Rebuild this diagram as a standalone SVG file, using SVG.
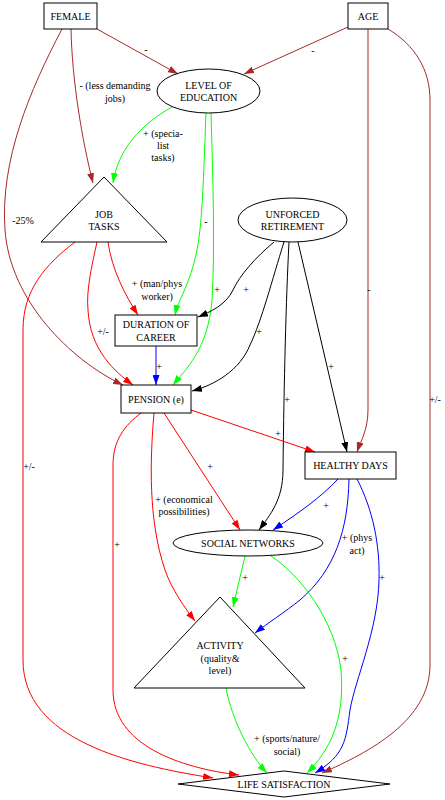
<svg xmlns="http://www.w3.org/2000/svg" width="445" height="800" viewBox="0 0 445 800">
<defs>
<style>
text{font-family:"Liberation Serif","Times New Roman",serif;font-size:10px;text-anchor:middle;dominant-baseline:central;fill:#000}
.n{fill:none;stroke:#000;stroke-width:1}
.e{fill:none;stroke-width:1}
.br{stroke:#a52a2a}.rd{stroke:#ff0000}.gr{stroke:#00ff00}.bl{stroke:#0000ff}.bk{stroke:#000}
</style>
<marker id="abr" markerUnits="userSpaceOnUse" markerWidth="10" markerHeight="7" refX="10" refY="3.5" orient="auto"><path d="M0,0L10,3.5L0,7z" fill="#a52a2a"/></marker>
<marker id="ard" markerUnits="userSpaceOnUse" markerWidth="10" markerHeight="7" refX="10" refY="3.5" orient="auto"><path d="M0,0L10,3.5L0,7z" fill="#ff0000"/></marker>
<marker id="agr" markerUnits="userSpaceOnUse" markerWidth="10" markerHeight="7" refX="10" refY="3.5" orient="auto"><path d="M0,0L10,3.5L0,7z" fill="#00ff00"/></marker>
<marker id="abl" markerUnits="userSpaceOnUse" markerWidth="10" markerHeight="7" refX="10" refY="3.5" orient="auto"><path d="M0,0L10,3.5L0,7z" fill="#0000ff"/></marker>
<marker id="abk" markerUnits="userSpaceOnUse" markerWidth="10" markerHeight="7" refX="10" refY="3.5" orient="auto"><path d="M0,0L10,3.5L0,7z" fill="#000"/></marker>
</defs>
<rect width="445" height="800" fill="#fff"/>
<g id="connectors">
<path class="e br" marker-end="url(#abr)" d="M97,29 L178,74"/>
<path class="e br" marker-end="url(#abr)" d="M348,27 L244,74"/>
<path class="e br" marker-end="url(#abr)" d="M71,29 C72,80 82,140 93,183"/>
<path class="e br" marker-end="url(#abr)" d="M62,29 C30,90 0,160 5,230 C10,300 70,360 123,385"/>
<path class="e gr" marker-end="url(#agr)" d="M172,107 C140,125 118,150 113,183"/>
<path class="e gr" marker-end="url(#agr)" d="M206,113 C204,160 203,220 197,250 C190,285 178,300 175,315"/>
<path class="e gr" marker-end="url(#agr)" d="M211,113 C213,180 215,250 212,300 C208,350 185,370 173,385"/>
<path class="e bk" marker-end="url(#abk)" d="M274,242 C255,258 240,275 233,290 C226,305 210,312 198,317"/>
<path class="e bk" marker-end="url(#abk)" d="M284,242 C272,280 262,320 250,345 C240,370 215,385 192,391"/>
<path class="e bk" marker-end="url(#abk)" d="M289,242 C286,300 284,380 283,470 C283,500 270,515 259,530"/>
<path class="e bk" marker-end="url(#abk)" d="M298,242 L347,452"/>
<path class="e br" marker-end="url(#abr)" d="M368,29 L368,410 C368,430 360,443 357,452"/>
<path class="e br" marker-end="url(#abr)" d="M388,29 C415,45 430,70 430,100 L430,665 C430,720 370,752 322,773"/>
<path class="e rd" marker-end="url(#ard)" d="M108,242 C112,270 125,295 138,315"/>
<path class="e rd" marker-end="url(#ard)" d="M97,242 C92,265 86,290 88,310 C90,350 115,372 133,385"/>
<path class="e rd" marker-end="url(#ard)" d="M75,242 C45,265 23,290 23,330 L23,660 C23,740 130,765 213,778"/>
<path class="e bl" marker-end="url(#abl)" d="M156,346 L156,385"/>
<path class="e rd" marker-end="url(#ard)" d="M191,410 L315,452"/>
<path class="e rd" marker-end="url(#ard)" d="M164,413 L240,530"/>
<path class="e rd" marker-end="url(#ard)" d="M154,413 C150,460 148,520 165,570 C172,590 185,608 195,621"/>
<path class="e rd" marker-end="url(#ard)" d="M141,413 C125,425 113,440 113,465 L113,690 C113,745 180,768 239,775"/>
<path class="e bl" marker-end="url(#abl)" d="M338,479 C320,498 300,512 273,530"/>
<path class="e bl" marker-end="url(#abl)" d="M349,479 C348,530 335,570 300,600 C285,612 268,623 255,633"/>
<path class="e bl" marker-end="url(#abl)" d="M357,479 C373,510 380,545 379,580 C378,630 355,680 350,710 C346,740 345,755 315,773"/>
<path class="e gr" marker-end="url(#agr)" d="M245,556 L233,607"/>
<path class="e gr" marker-end="url(#agr)" d="M271,556 C300,575 335,620 341,670 C345,720 330,750 307,773"/>
<path class="e gr" marker-end="url(#agr)" d="M226,688 C232,720 250,755 267,773"/>
<text x="146" y="49">-</text>
<text x="313" y="50">-</text>
<text x="115" y="85">- (less demanding</text>
<text x="115" y="98">jobs)</text>
<text x="163" y="133">+ (specia-</text>
<text x="163" y="145">list</text>
<text x="163" y="157">tasks)</text>
<text x="23" y="220">-25%</text>
<text x="206" y="221">-</text>
<text x="217" y="289">+</text>
<text x="246" y="289">+</text>
<text x="157" y="283">+ (man/phys</text>
<text x="157" y="296">worker)</text>
<text x="103" y="331">+/-</text>
<text x="259" y="331">+</text>
<text x="369" y="289">-</text>
<text x="159" y="366">+</text>
<text x="331" y="366">+</text>
<text x="287" y="399">+</text>
<text x="435" y="399">+/-</text>
<text x="278" y="433">+</text>
<text x="210" y="466">+</text>
<text x="29" y="466">+/-</text>
<text x="184" y="499">+ (economical</text>
<text x="184" y="511">possibilities)</text>
<text x="326" y="505">+</text>
<text x="357" y="537">+ (phys</text>
<text x="357" y="550">act)</text>
<text x="117" y="544">+</text>
<text x="245" y="577">+</text>
<text x="382" y="577">+</text>
<text x="345" y="658">+</text>
<text x="287" y="738">+ (sports/nature/</text>
<text x="287" y="751">social)</text>
</g>
<g id="female"><rect class="n" x="44" y="3" width="53" height="26" fill="#fff"/><text x="70.5" y="16">FEMALE</text></g>
<g id="age"><rect class="n" x="348" y="3" width="40" height="26"/><text x="368" y="16">AGE</text></g>
<g id="education"><ellipse class="n" cx="208.5" cy="91" rx="51.5" ry="22"/><text x="208.5" y="85">LEVEL OF</text><text x="208.5" y="97">EDUCATION</text></g>
<g id="jobtasks"><polygon class="n" points="104,177 167,242 41,242"/><text x="104" y="214">JOB</text><text x="104" y="226">TASKS</text></g>
<g id="unforced"><ellipse class="n" cx="292.5" cy="220" rx="54.5" ry="22"/><text x="292.5" y="214">UNFORCED</text><text x="292.5" y="226">RETIREMENT</text></g>
<g id="duration"><rect class="n" x="115" y="315" width="82" height="31"/><text x="156" y="324.5">DURATION OF</text><text x="156" y="337">CAREER</text></g>
<g id="pension"><rect class="n" x="121" y="385" width="70" height="28"/><text x="156" y="399">PENSION (e)</text></g>
<g id="healthy"><rect class="n" x="305" y="452" width="91" height="27"/><text x="350.5" y="465.5">HEALTHY DAYS</text></g>
<g id="social"><ellipse class="n" cx="248" cy="543" rx="75" ry="13"/><text x="248" y="543">SOCIAL NETWORKS</text></g>
<g id="activity"><polygon class="n" points="220,597 305,688 134,688"/><text x="220" y="645">ACTIVITY</text><text x="220" y="658">(quality&amp;</text><text x="220" y="670">level)</text></g>
<g id="lifesat"><polygon class="n" points="284,771 390,784 284,797 178,784"/><text x="284" y="784">LIFE SATISFACTION</text></g>
</svg>
